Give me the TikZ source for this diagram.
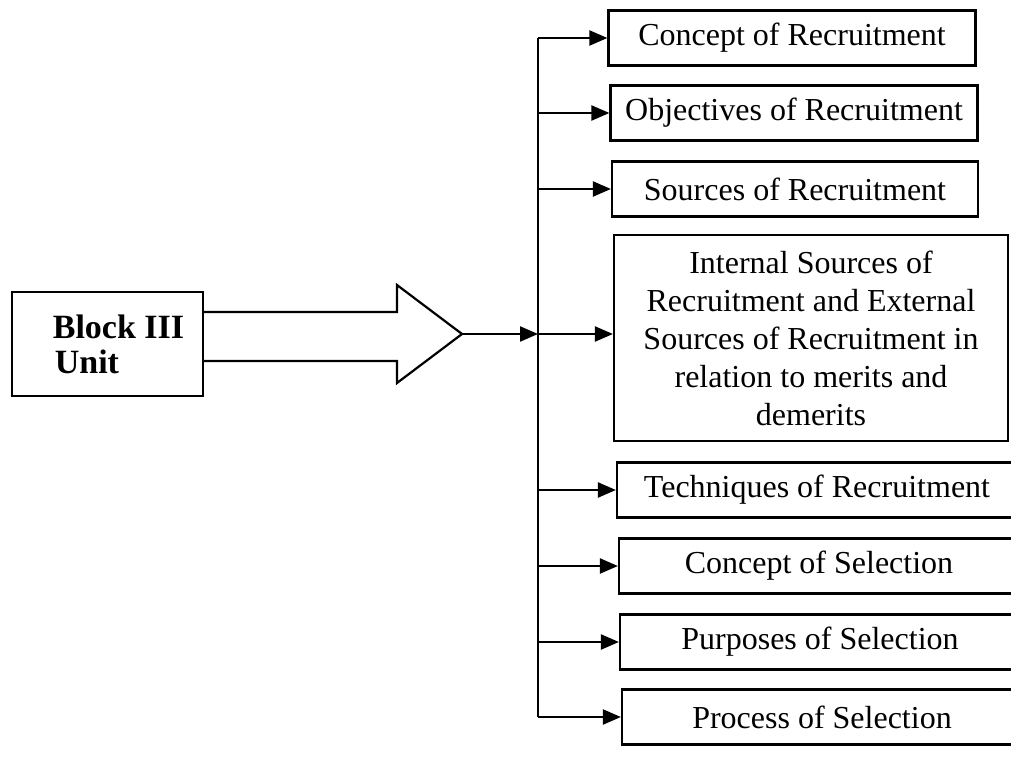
\documentclass[tikz,border=0pt]{standalone}
\usepackage{fontspec}
\setmainfont{Liberation Serif}
\usetikzlibrary{arrows.meta,calc}

\begin{document}
\begin{tikzpicture}[x=1pt,y=-1pt,
  item/.style={draw, line width=2.2pt, minimum height=55pt, inner sep=0pt,
               font=\fontsize{32}{38}\selectfont},
  link/.style={line width=2.2pt, -{Triangle[length=18pt,width=15pt]}},
  trunk/.style={line width=2.2pt},
  hollow/.style={line width=2.2pt, line join=miter}]
\useasboundingbox (0,0) rectangle (1011,759);

% topic boxes on the right
\node[item, minimum width=367pt] (c1) at (792,38) {Concept of Recruitment};
\node[item, minimum width=367pt] (c2) at (794,113) {Objectives of Recruitment};
\node[item, minimum width=366pt] (c3) at (795,189) {Sources of Recruitment};
\node[item, minimum width=394pt, minimum height=206pt, align=center,
      font=\fontsize{32}{38}\selectfont] (c4) at (811,338)
  {Internal Sources of\\Recruitment and External\\Sources of Recruitment in\\relation to merits and\\demerits};
\node[item, minimum width=400pt] (c5) at (817,490) {Techniques of Recruitment};
\node[item, minimum width=400pt] (c6) at (819,566) {Concept of Selection};
\node[item, minimum width=400pt] (c7) at (820,642) {Purposes of Selection};
\node[item, minimum width=400pt] (c8) at (822,717) {Process of Selection};

% block box on the left
\node[draw, line width=2.2pt, minimum width=191pt, minimum height=104pt,
      inner sep=0pt, align=left,
      font=\bfseries\fontsize{34}{35}\selectfont] (blk) at (107.5,344)
  {\hspace*{22pt}Block III\\\hspace*{24pt}Unit};

% broad hollow arrow
\coordinate (tip) at (462,334);
\draw[hollow] (blk.east |- 0,312) -- (397,312) -- (397,285) -- (tip)
  -- (397,383) -- (397,361) -- (blk.east |- 0,361);

% junction on the trunk
\coordinate (j) at (538,334);
\draw[link] (tip) -- (j);
\draw[trunk] (c1.west -| j) -- (c8.west -| j);
\draw[link] (j) -- (j -| c4.west);
\foreach \n in {c1,c2,c3,c5,c6,c7,c8}
  \draw[link] (\n.west -| j) -- (\n.west);
\end{tikzpicture}
\end{document}
